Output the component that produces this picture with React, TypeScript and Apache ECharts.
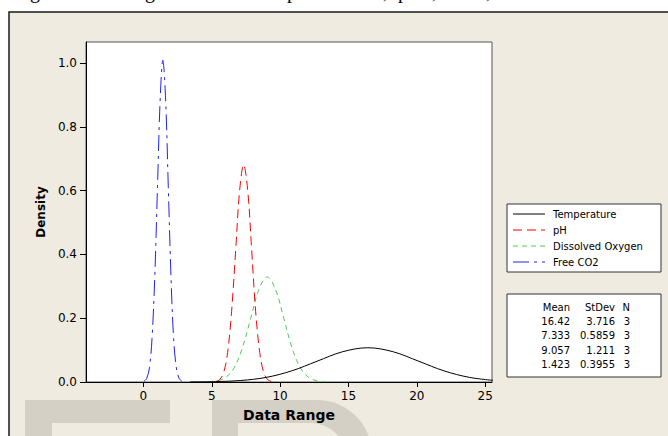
import React, { useEffect, useRef } from "react";
import * as echarts from "echarts";

// Values (density curves)
const temperature: [number, number][] = [
  [3.41, 0.0002], [5.27, 0.0012], [7.13, 0.0047], [8.99, 0.0145], [10.85, 0.0349],
  [12.7, 0.0651], [14.56, 0.0947], [16.42, 0.1074], [18.28, 0.0947], [20.14, 0.0651],
  [21.99, 0.0349], [23.85, 0.0145], [25.71, 0.0047],
];
const ph: [number, number][] = [
  [5.28, 0.0015], [5.58, 0.0076], [5.87, 0.0299], [6.16, 0.0922], [6.45, 0.2211],
  [6.75, 0.413], [7.04, 0.6009], [7.33, 0.6809], [7.63, 0.6009], [7.92, 0.413],
  [8.21, 0.2211], [8.51, 0.0922], [8.8, 0.0299], [9.09, 0.0076], [9.38, 0.0015],
];
const dissolvedOxygen: [number, number][] = [
  [4.82, 0.0007], [5.42, 0.0037], [6.03, 0.0145], [6.64, 0.0446], [7.24, 0.107],
  [7.85, 0.1998], [8.45, 0.2907], [9.06, 0.3294], [9.66, 0.2907], [10.27, 0.1998],
  [10.87, 0.107], [11.48, 0.0446], [12.08, 0.0145], [12.69, 0.0037], [13.3, 0.0007],
];
const freeCO2: [number, number][] = [
  [0.04, 0.0022], [0.24, 0.0112], [0.44, 0.0443], [0.63, 0.1365], [0.83, 0.3275],
  [1.03, 0.6118], [1.23, 0.8902], [1.42, 1.0087], [1.62, 0.8902], [1.82, 0.6118],
  [2.02, 0.3275], [2.21, 0.1365], [2.41, 0.0443], [2.61, 0.0112], [2.81, 0.0022],
];

const seriesNames = ["Temperature", "pH", "Dissolved Oxygen", "Free CO2"];
const xTicks = [0, 5, 10, 15, 20, 25];
const yTicks = [0, 0.2, 0.4, 0.6, 0.8, 1.0];

const statsHeader = ["Mean", "StDev", "N"];
const statsRows = [
  ["16.42", "3.716", "3"],
  ["7.333", "0.5859", "3"],
  ["9.057", "1.211", "3"],
  ["1.423", "0.3955", "3"],
];

const FONT = "DejaVu Sans";
const colors = ["#000000", "#ff0000", "#55c855", "#2020ff"];
const dashes: any[] = ["solid", [9, 5], [5, 4], [16, 5, 3, 5]];

export default function App() {
  const ref = useRef<HTMLDivElement>(null);
  useEffect(() => {
    if (!ref.current) return;
    const chart = echarts.init(ref.current, undefined, { renderer: "svg" });
    const datas = [temperature, ph, dissolvedOxygen, freeCO2];

    const legendEls: any[] = [];
    const rowY = [214, 230, 246, 262];
    seriesNames.forEach((n, i) => {
      legendEls.push({
        type: "line",
        z: 100,
        shape: { x1: 513, y1: rowY[i], x2: 545, y2: rowY[i] },
        style: { stroke: colors[i], lineWidth: 1, lineDash: dashes[i] === "solid" ? null : dashes[i] },
      });
      legendEls.push({
        type: "text",
        z: 100,
        x: 553,
        y: rowY[i],
        style: { text: n, fontFamily: FONT, fontSize: 10, fill: "#000", verticalAlign: "middle", align: "left" },
      });
    });

    const colRight = [570, 615, 630];
    const statY = [307, 321, 335, 350, 364];
    [statsHeader, ...statsRows].forEach((row, r) => {
      row.forEach((t, c) => {
        legendEls.push({
          type: "text",
          z: 100,
          x: colRight[c],
          y: statY[r],
          style: { text: t, fontFamily: FONT, fontSize: 10, fill: "#000", align: "right", verticalAlign: "middle" },
        });
      });
    });

    const topGlyphs = [
      { t: "g", x: 30 }, { t: "g", x: 145 }, { t: "p", x: 287 }, { t: ",", x: 383 },
      { t: "p", x: 398 }, { t: ",", x: 432 }, { t: ",", x: 486 },
    ];

    const option: any = {
      animation: false,
      backgroundColor: "#ffffff",
      graphic: [
        ...topGlyphs.map((g) => ({
          type: "text",
          z: -20,
          x: g.x,
          y: -19,
          style: { text: g.t, fontFamily: "Liberation Serif", fontSize: 20, fill: "#000", verticalAlign: "top" },
        })),
        {
          type: "rect",
          z: -10,
          shape: { x: 9, y: 12, width: 700, height: 460 },
          style: { fill: "#efebe1", stroke: "#1a1a1a", lineWidth: 1.5 },
        },
        // watermark
        { type: "rect", z: -5, shape: { x: 25, y: 400, width: 145, height: 23 }, style: { fill: "#d4d0c6" } },
        { type: "rect", z: -5, shape: { x: 25, y: 423, width: 27, height: 20 }, style: { fill: "#d4d0c6" } },
        { type: "rect", z: -5, shape: { x: 212, y: 400, width: 160, height: 120, r: [0, 55, 0, 0] }, style: { fill: "#d4d0c6" } },
        { type: "rect", z: -4, shape: { x: 238, y: 423, width: 108, height: 100, r: [0, 35, 0, 0] }, style: { fill: "#efebe1" } },
        // legend boxes
        { type: "rect", z: 90, shape: { x: 507, y: 204, width: 154, height: 68 }, style: { fill: "#ffffff", stroke: "#333", lineWidth: 1 } },
        { type: "rect", z: 90, shape: { x: 507, y: 294, width: 154, height: 83 }, style: { fill: "#ffffff", stroke: "#333", lineWidth: 1 } },
        ...legendEls,
      ],
      grid: {
        left: 86,
        right: 176,
        top: 42,
        bottom: 54,
        show: true,
        backgroundColor: "#ffffff",
        borderColor: "#555",
        borderWidth: 1,
      },
      xAxis: {
        type: "value",
        min: -4.2,
        max: 25.5,
        name: "Data Range",
        nameLocation: "middle",
        nameGap: 26,
        nameTextStyle: { fontFamily: FONT, fontSize: 14, fontWeight: "bold", color: "#000" },
        splitLine: { show: false },
        axisLine: { show: true, onZero: false, lineStyle: { color: "#000", width: 1 } },
        axisTick: { show: true, length: 5, lineStyle: { color: "#000" }, customValues: xTicks },
        axisLabel: {
          customValues: xTicks,
          margin: 8,
          fontFamily: FONT,
          fontSize: 12,
          color: "#000",
          showMinLabel: true,
          showMaxLabel: true,
        },
      },
      yAxis: {
        type: "value",
        min: 0,
        max: 1.066,
        name: "Density",
        nameLocation: "middle",
        nameGap: 39,
        nameRotate: 90,
        nameTextStyle: { fontFamily: FONT, fontSize: 12, fontWeight: "bold", color: "#000" },
        splitLine: { show: false },
        axisLine: { show: true, onZero: false, lineStyle: { color: "#000", width: 1 } },
        axisTick: { show: true, length: 6, lineStyle: { color: "#000" }, customValues: yTicks },
        axisLabel: {
          customValues: yTicks,
          margin: 9,
          fontFamily: FONT,
          fontSize: 12,
          color: "#000",
          formatter: (v: number) => v.toFixed(1),
        },
      },
      series: datas.map((d, i) => ({
        name: seriesNames[i],
        type: "line",
        data: d,
        smooth: 0.35,
        showSymbol: false,
        symbol: "none",
        clip: true,
        lineStyle: { color: colors[i], width: 1, type: dashes[i] },
        z: 10 - i,
      })),
    };
    chart.setOption(option);
    return () => chart.dispose();
  }, []);
  return (
    <div
      ref={ref}
      style={{ position: "fixed", left: 0, top: 0, width: 668, height: 436 }}
    />
  );
}
